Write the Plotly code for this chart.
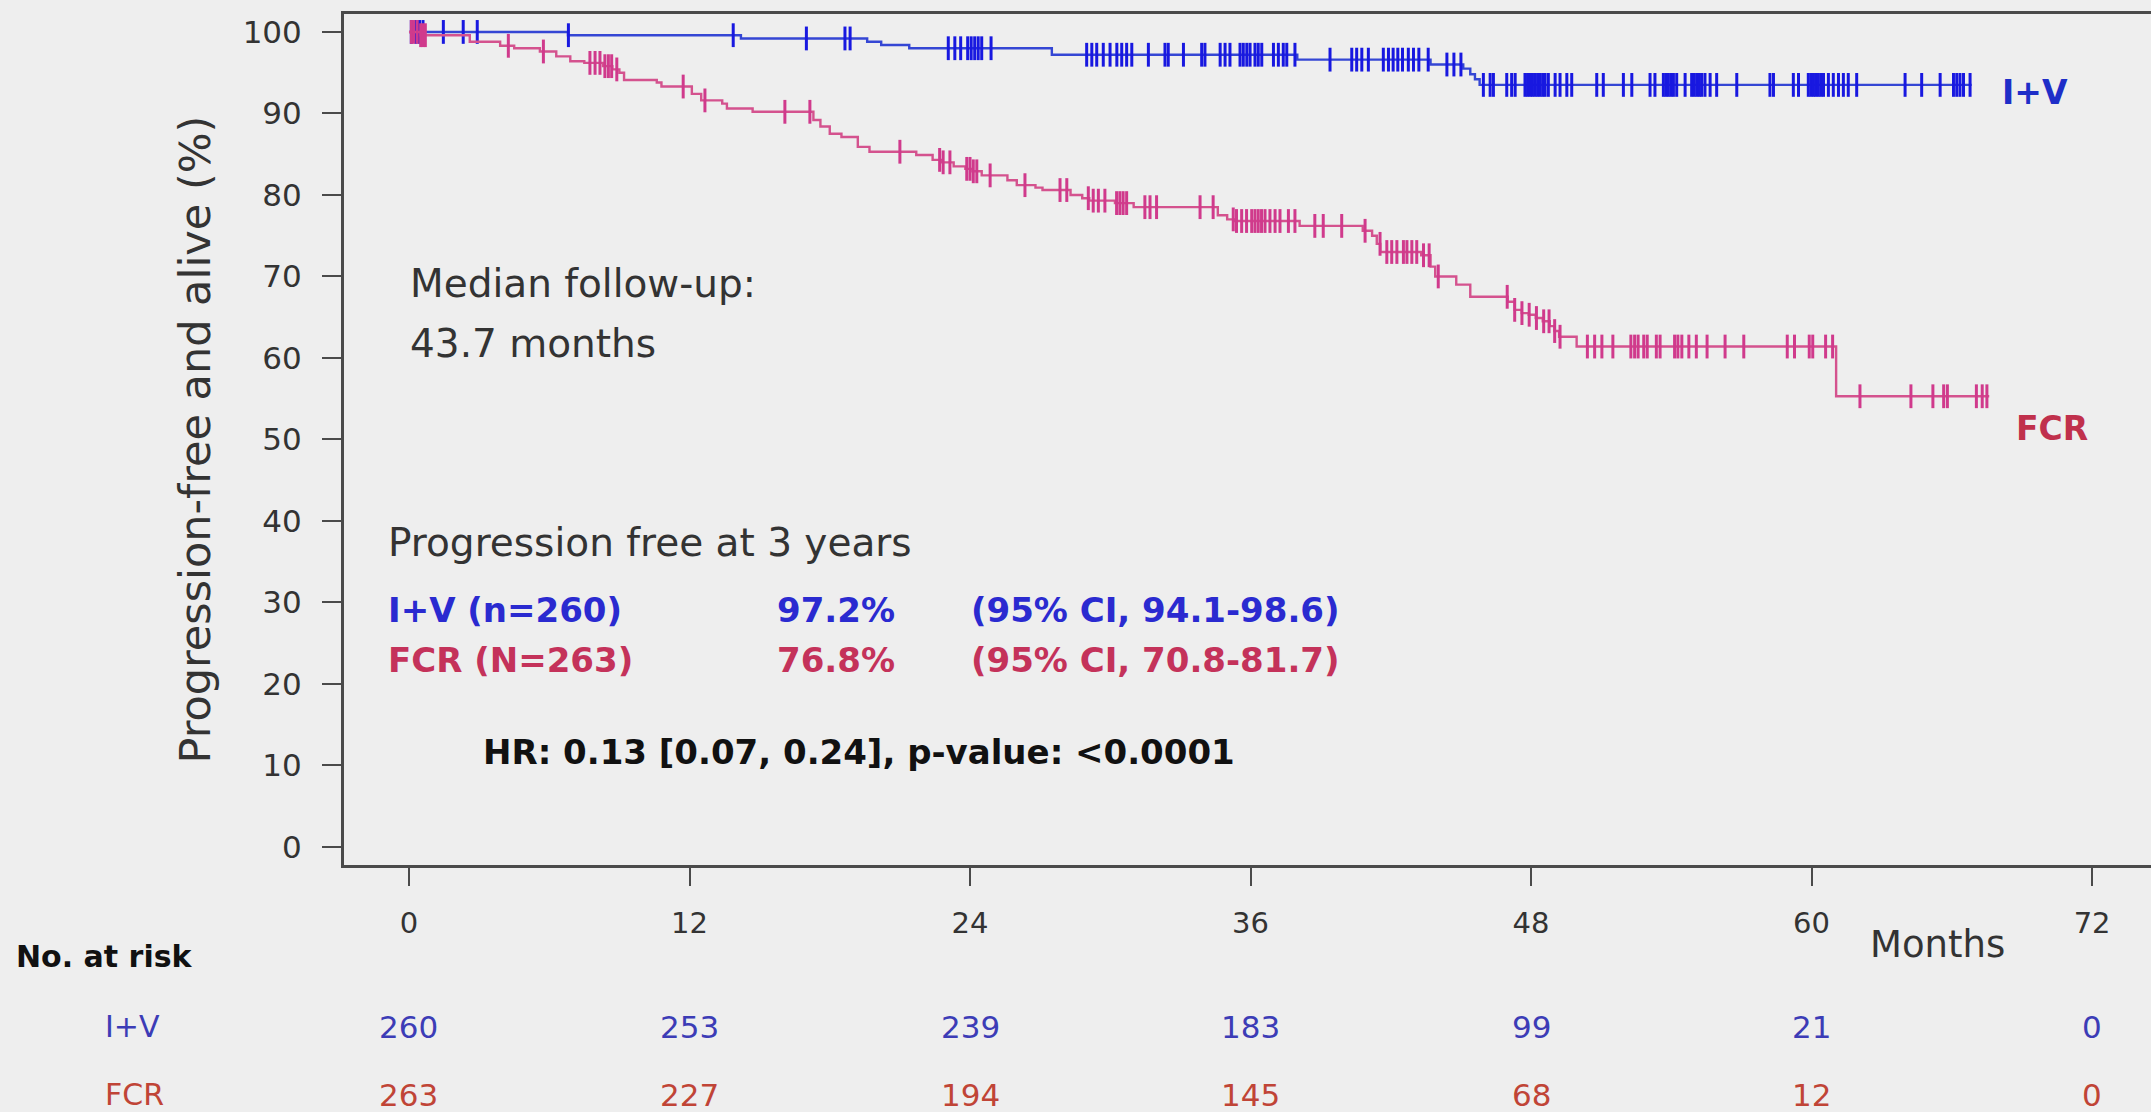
import numpy as np
import plotly.graph_objects as go

# Kaplan-Meier step data: event times (months) and survival (%) after each step
iv_step_t = [0, 6.8, 14.2, 19.6, 20.2, 21.4, 27.5, 38.0, 43.7, 45.1, 45.4, 45.6, 45.8]
iv_step_s = [100, 99.6, 99.2, 98.8, 98.4, 98.0, 97.2, 96.6, 96.0, 95.5, 94.8, 94.2, 93.5]
iv_last = 66.85

fcr_step_t = [0, 0.5, 2.6, 3.9, 4.5, 5.6, 6.3, 6.9, 7.5, 8.3,
              8.7, 9.0, 9.2, 10.6, 10.8, 12.1, 12.5, 13.4, 13.6, 14.7,
              17.3, 17.6, 18.0, 18.5, 19.2, 19.7, 21.7, 22.4, 22.8, 23.3,
              23.8, 24.1, 24.5, 25.6, 26.0, 26.8, 27.1, 28.3, 28.8, 29.1,
              30.2, 31.0, 34.6, 35.0, 35.3, 38.1, 40.8, 41.2, 41.4, 41.55,
              43.3, 43.7, 43.9, 44.8, 45.4, 47.0, 47.3, 47.6, 47.9, 48.2,
              48.5, 48.8, 49.0, 49.2, 49.95, 61.05]
fcr_step_s = [100, 99.6, 98.8, 98.3, 98.0, 97.6, 97.0, 96.4, 96.2, 95.8,
              95.4, 95.0, 94.1, 93.8, 93.3, 92.4, 91.6, 91.2, 90.6, 90.2,
              89.2, 88.4, 87.5, 87.1, 85.9, 85.3, 84.9, 84.3, 84.0, 83.5,
              83.2, 82.9, 82.4, 81.8, 81.2, 80.9, 80.6, 80.0, 79.6, 79.3,
              79.0, 78.5, 77.5, 77.0, 76.8, 76.2, 75.6, 75.0, 74.0, 73.0,
              72.6, 71.2, 70.0, 69.0, 67.5, 66.9, 65.9, 65.5, 65.3, 64.9,
              64.5, 63.9, 63.3, 62.6, 61.4, 55.3]
fcr_last = 67.6

# Censoring times (months)
iv_censor = [0.1, 0.3, 0.45, 0.6, 1.47, 2.32, 2.92, 6.82, 13.87, 17.0, 18.65, 18.87,
             23.07, 23.35, 23.6, 23.9, 24.05, 24.2, 24.35, 24.5, 24.9,
             28.99, 29.21, 29.42, 29.7, 29.99, 30.28, 30.49, 30.7, 30.92, 31.63,
             32.34, 32.48, 33.13, 33.91, 34.05, 34.7, 34.91, 35.12, 35.55, 35.69,
             35.84, 35.98, 36.19, 36.33, 36.48, 36.98, 37.19, 37.4, 37.55, 37.9,
             39.4, 40.33, 40.54, 40.76, 41.04, 41.68, 41.9, 42.1, 42.3, 42.5,
             42.75, 42.97, 43.2, 43.6, 44.4, 44.7, 45.0,
             45.96, 46.25, 46.39, 46.96, 47.17, 47.32, 47.74, 47.85, 47.96, 48.06,
             48.17, 48.28, 48.39, 48.5, 48.6, 48.74, 49.03, 49.24, 49.53, 49.74,
             50.81, 51.09, 51.95, 52.31, 53.09, 53.3, 53.66, 53.77, 53.87, 53.98,
             54.09, 54.23, 54.59, 54.87, 54.98, 55.09, 55.2, 55.3, 55.44, 55.66,
             55.94, 56.8, 58.22, 58.37, 59.22, 59.44, 59.86, 59.97, 60.08, 60.18,
             60.29, 60.4, 60.51, 60.72, 60.93, 61.15, 61.36, 61.57, 61.93,
             64.0, 64.71, 65.5, 66.07, 66.21, 66.35, 66.5, 66.78]
fcr_censor = [0.1, 0.2, 0.35, 0.5, 0.6, 0.7, 4.25, 5.75, 7.74, 7.96, 8.17, 8.38,
              8.53, 8.67, 8.89, 11.73, 12.66, 16.08, 17.15, 21.0, 22.7, 22.85,
              23.14, 23.86, 24.0, 24.14, 24.29, 24.86, 26.35, 27.85, 28.14, 29.06,
              29.27, 29.49, 29.77, 30.27, 30.41, 30.55, 30.7, 31.48, 31.7, 31.98,
              33.84, 34.4, 35.26, 35.4, 35.62, 35.83, 36.05, 36.19, 36.33, 36.47,
              36.62, 36.83, 37.05, 37.26, 37.62, 37.9, 38.75, 39.11, 39.9, 40.9,
              41.54, 41.83, 42.04, 42.26, 42.54, 42.69, 42.9, 43.11, 43.4, 43.64,
              44.03, 46.98, 47.3, 47.61, 47.92, 48.23, 48.54, 48.77, 49.01, 49.24,
              50.41, 50.72, 51.03, 51.5, 52.27, 52.43, 52.58, 52.82, 52.97, 53.36,
              53.52, 54.14, 54.28, 54.45, 54.75, 55.07, 55.53, 56.3, 57.1, 58.96,
              59.27, 59.9, 60.05, 60.6, 60.9, 62.07, 64.25, 65.19, 65.65, 65.81,
              67.05, 67.3, 67.5]

# Axis ticks and number-at-risk table
month_ticks = [0, 12, 24, 36, 48, 60, 72]
pct_ticks = [0, 10, 20, 30, 40, 50, 60, 70, 80, 90, 100]
iv_at_risk = [260, 253, 239, 183, 99, 21, 0]
fcr_at_risk = [263, 227, 194, 145, 68, 12, 0]

BG = "#eeeeee"
AXIS = "#4a4a4a"
TXT = "#333333"
IV_LINE, IV_MARK, IV_TEXT, IV_RISK = "#3446d4", "#1818e0", "#2a2ad0", "#3c3cb6"
FCR_LINE, FCR_MARK, FCR_TEXT, FCR_RISK = "#d4528e", "#d03a8c", "#c4325a", "#c04436"
FONT = "DejaVu Sans"


def km_at(times, surv, t):
    idx = np.searchsorted(np.asarray(times), np.asarray(t), side="right") - 1
    return np.asarray(surv)[idx]


fig = go.Figure()

for st, ss, last, cens, lc, mc in [
    (iv_step_t, iv_step_s, iv_last, iv_censor, IV_LINE, IV_MARK),
    (fcr_step_t, fcr_step_s, fcr_last, fcr_censor, FCR_LINE, FCR_MARK),
]:
    fig.add_trace(go.Scatter(
        x=st + [last], y=ss + [ss[-1]], mode="lines",
        line=dict(color=lc, width=2.4, shape="hv"), hoverinfo="skip"))
    fig.add_trace(go.Scatter(
        x=cens, y=km_at(st, ss, cens), mode="markers",
        marker=dict(symbol="line-ns", size=17, color=mc,
                    line=dict(width=3, color=mc)),
        hoverinfo="skip"))

ann = []


def text(s, x, y, size, color=TXT, bold=False, xref="x", yref="y",
         xanchor="left", angle=0):
    ann.append(dict(
        text=f"<b>{s}</b>" if bold else s, x=x, y=y, xref=xref, yref=yref,
        xanchor=xanchor, yanchor="middle", showarrow=False, textangle=angle,
        font=dict(family=FONT, size=size, color=color)))


# Annotations inside the plot
text("Median follow-up:", -0.05, 69.1, 39)
text("43.7 months", -0.05, 61.8, 39)
text("Progression free at 3 years", -0.98, 37.3, 39)
text("I+V (n=260)", -0.98, 29.1, 34, IV_TEXT, True)
text("97.2%", 15.66, 29.1, 34, IV_TEXT, True)
text("(95% CI, 94.1-98.6)", 23.96, 29.1, 34, IV_TEXT, True)
text("FCR (N=263)", -0.98, 23.0, 34, FCR_TEXT, True)
text("76.8%", 15.66, 23.0, 34, FCR_TEXT, True)
text("(95% CI, 70.8-81.7)", 23.96, 23.0, 34, FCR_TEXT, True)
text("HR: 0.13 [0.07, 0.24], p-value: &lt;0.0001", 3.08, 11.7, 34, "#111111", True)
text("I+V", 68.07, 92.6, 33, "#1e2ec8", True)
text("FCR", 68.66, 51.4, 33, "#c0304c", True)

# Y axis title
text("Progression-free and alive (%)", -0.0825, 0.5, 43, TXT,
     xref="paper", yref="paper", xanchor="center", angle=-90)

# Number at risk table
text("No. at risk", -0.1826, -0.107, 30, "#111111", True, xref="paper", yref="paper")
text("Months", 62.42, -0.094, 37, TXT, yref="paper")
text("I+V", -0.1334, -0.190, 30, IV_RISK, xref="paper", yref="paper")
text("FCR", -0.1334, -0.270, 30, FCR_RISK, xref="paper", yref="paper")
for m, a, b in zip(month_ticks, iv_at_risk, fcr_at_risk):
    text(str(a), m, -0.190, 31, IV_RISK, yref="paper", xanchor="center")
    text(str(b), m, -0.270, 31, FCR_RISK, yref="paper", xanchor="center")

fig.update_layout(
    width=2151, height=1112,
    margin=dict(l=344, r=0, t=14, b=247),
    paper_bgcolor=BG, plot_bgcolor=BG, showlegend=False,
    annotations=ann,
    xaxis=dict(range=[-2.78, 74.52], tickvals=month_ticks, ticks="outside",
               ticklen=18, tickwidth=2, tickcolor=AXIS, showline=True,
               linewidth=3, linecolor=AXIS, mirror=True, showgrid=False,
               zeroline=False, ticklabelstandoff=12,
               tickfont=dict(family=FONT, size=29, color=TXT)),
    yaxis=dict(range=[-2.21, 102.2], tickvals=pct_ticks, ticks="outside",
               ticklen=19, tickwidth=2, tickcolor=AXIS, showline=True,
               linewidth=3, linecolor=AXIS, showgrid=False, zeroline=False,
               ticklabelstandoff=14,
               tickfont=dict(family=FONT, size=31, color=TXT)),
)

fig.write_html("out.html")
